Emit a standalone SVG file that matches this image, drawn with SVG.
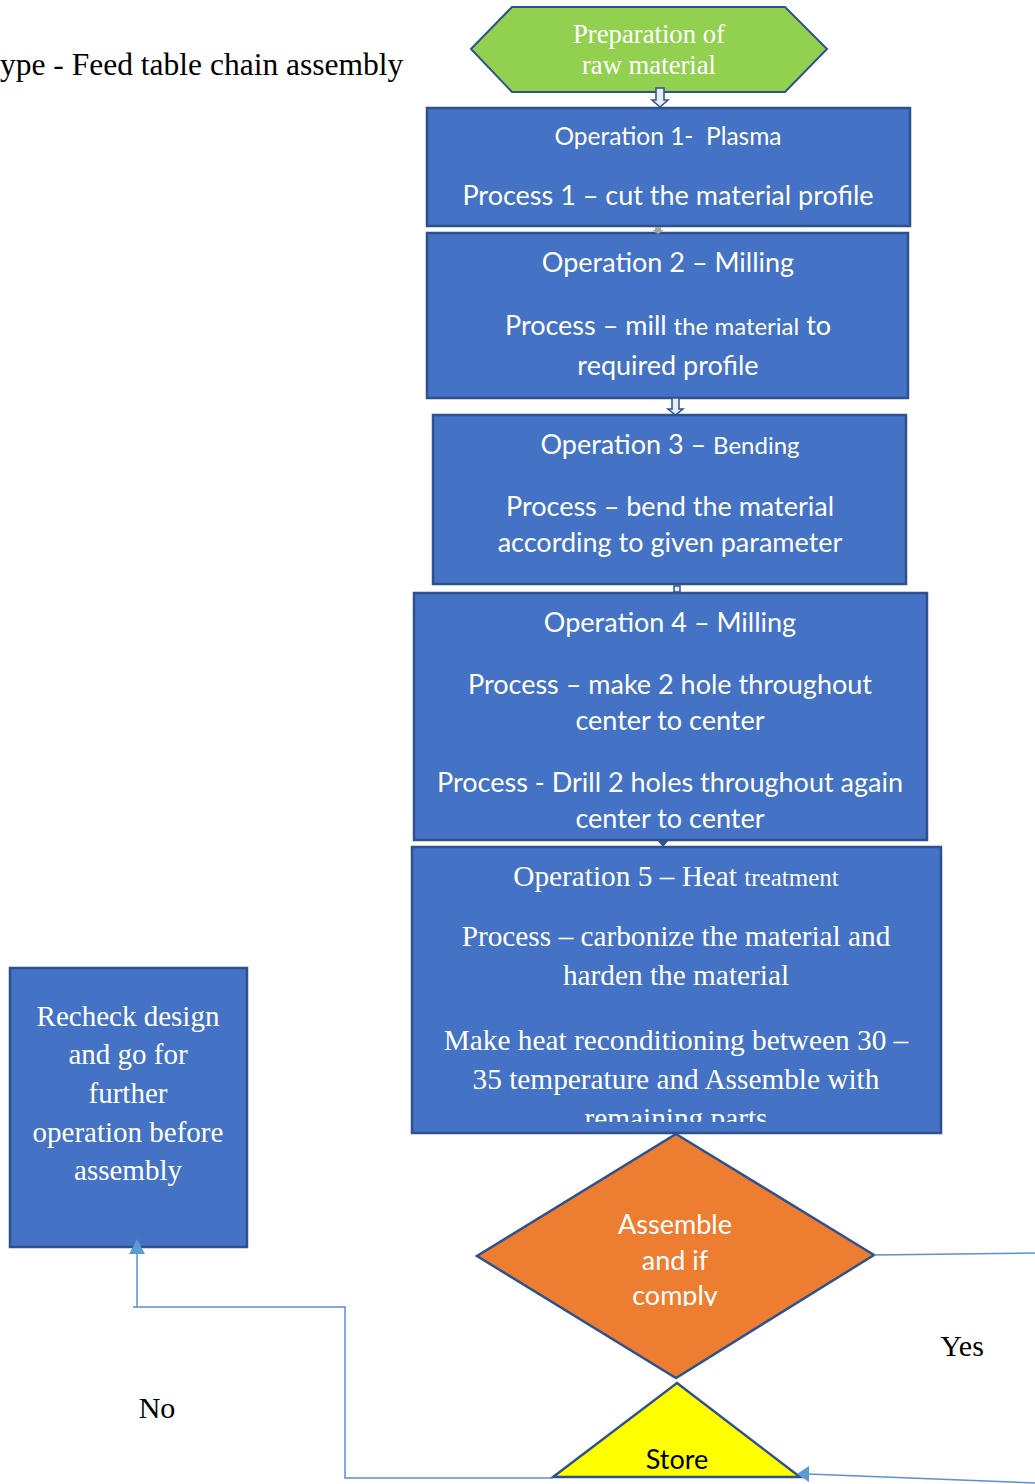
<svg xmlns="http://www.w3.org/2000/svg" width="1035" height="1484" viewBox="0 0 1035 1484">
  <style>
    .box { fill: #4472C4; stroke: #2F528F; stroke-width: 2.5; }
    .cal { font-family: Lato, "Liberation Sans", sans-serif; fill: #FFFFFF; text-anchor: middle; white-space: pre; }
    .tnr { font-family: "Liberation Serif", "Times New Roman", serif; text-anchor: middle; }
    .wt { fill: #FFFFFF; }
    .bk { fill: #000000; }
    .link { fill: none; stroke: #5B8FD6; stroke-width: 1.5; }
    .blk { fill: #E8ECF4; stroke: #2F528F; stroke-width: 1.5; }
  </style>
  <defs>
    <clipPath id="clip-op5"><rect x="412" y="847" width="530" height="275"/></clipPath>
    <clipPath id="clip-dec"><rect x="470" y="1134" width="410" height="172"/></clipPath>
    <clipPath id="clip-store"><rect x="540" y="1380" width="270" height="89"/></clipPath>
  </defs>

  <rect width="1035" height="1484" fill="#FFFFFF"/>

  <!-- heading -->
  <text class="tnr bk" x="0" y="75" font-size="31.5" style="text-anchor:start">ype - Feed table chain assembly</text>

  <g id="start">
    <polygon points="471,49 512,7 785,7 827,49 785,92 512,92" fill="#92D050" stroke="#2F528F" stroke-width="2"/>
    <text class="tnr wt" x="649" y="43" font-size="26.7">Preparation of</text>
    <text class="tnr wt" x="649" y="74" font-size="26.7">raw material</text>
  </g>

  <g id="op1">
    <rect class="box" x="427" y="108" width="483" height="118"/>
    <text class="cal" x="668" y="145" font-size="24.5">Operation 1-  Plasma</text>
    <text class="cal" x="668" y="205" font-size="27">Process 1 – cut the material profile</text>
  </g>

  <g id="op2">
    <rect class="box" x="427" y="233" width="481" height="165"/>
    <text class="cal" x="668" y="272" font-size="27">Operation 2 – Milling</text>
    <text class="cal" x="668" y="335" font-size="27">Process – mill <tspan font-size="24">the material</tspan> to</text>
    <text class="cal" x="668" y="375" font-size="27">required profile</text>
  </g>

  <g id="op3">
    <rect class="box" x="433" y="415" width="473" height="169"/>
    <text class="cal" x="670" y="454" font-size="27">Operation 3 – <tspan font-size="24">Bending</tspan></text>
    <text class="cal" x="670" y="516" font-size="27">Process – bend the material</text>
    <text class="cal" x="670" y="552" font-size="27">according to given parameter</text>
  </g>

  <g id="op4">
    <rect class="box" x="414" y="593" width="513" height="247"/>
    <text class="cal" x="670" y="632" font-size="27">Operation 4 – Milling</text>
    <text class="cal" x="670" y="694" font-size="27">Process – make 2 hole throughout</text>
    <text class="cal" x="670" y="730" font-size="27">center to center</text>
    <text class="cal" x="670" y="792" font-size="27">Process - Drill 2 holes throughout again</text>
    <text class="cal" x="670" y="828" font-size="27">center to center</text>
  </g>

  <g id="op5">
    <rect class="box" x="412" y="847" width="529" height="286"/>
    <g clip-path="url(#clip-op5)">
      <text class="tnr wt" x="676" y="886" font-size="29.3">Operation 5 – Heat <tspan font-size="25">treatment</tspan></text>
      <text class="tnr wt" x="676" y="946" font-size="29.3">Process – carbonize the material and</text>
      <text class="tnr wt" x="676" y="985" font-size="29.3">harden the material</text>
      <text class="tnr wt" x="676" y="1050" font-size="29.3">Make heat reconditioning between 30 –</text>
      <text class="tnr wt" x="676" y="1089" font-size="29.3">35 temperature and Assemble with</text>
      <text class="tnr wt" x="676" y="1128" font-size="29.3">remaining parts</text>
    </g>
  </g>

  <g id="decision">
    <polygon points="676,1134 874,1255 676,1378 477,1256" fill="#ED7D31" stroke="#2F528F" stroke-width="2.5"/>
    <g clip-path="url(#clip-dec)">
      <text class="cal" x="675" y="1234" font-size="27">Assemble</text>
      <text class="cal" x="675" y="1270" font-size="27">and if</text>
      <text class="cal" x="675" y="1305" font-size="27">comply</text>
    </g>
  </g>

  <g id="store">
    <polygon points="677,1383 800,1477 553,1477" fill="#FFFF00" stroke="#2F528F" stroke-width="2.5"/>
    <g clip-path="url(#clip-store)">
      <text class="cal" x="677" y="1469" font-size="27" style="fill:#000000">Store</text>
    </g>
  </g>

  <g id="recheck">
    <rect class="box" x="10" y="968" width="237" height="279"/>
    <text class="tnr wt" x="128" y="1026" font-size="29">Recheck design</text>
    <text class="tnr wt" x="128" y="1064" font-size="29">and go for</text>
    <text class="tnr wt" x="128" y="1103" font-size="29">further</text>
    <text class="tnr wt" x="128" y="1142" font-size="29">operation before</text>
    <text class="tnr wt" x="128" y="1180" font-size="29">assembly</text>
  </g>

  <g id="labels">
    <text class="tnr bk" x="962" y="1356" font-size="30">Yes</text>
    <text class="tnr bk" x="157" y="1418" font-size="30">No</text>
  </g>

  <!-- connectors, drawn last so their heads sit over the shapes -->
  <g id="connectors">
    <!-- small block arrows between the process steps -->
    <polygon class="blk" points="656,88 664,88 664,100 668,100 660,107 652,100 656,100"/>
    <polygon fill="#A6A6A6" points="655,227 661,227 661,230 664,230 658,234 652,230 655,230"/>
    <polygon class="blk" points="672,398 679,398 679,409 683,409 675.5,415 668,409 672,409"/>
    <rect class="blk" x="674" y="586" width="6" height="6"/>
    <polygon fill="#2F528F" points="657,840 669,840 663,847"/>
    <!-- yes branch -->
    <polyline class="link" stroke="#4472C4" points="874,1255 1035,1253"/>
    <polyline class="link" points="1035,1483 808,1474"/>
    <polygon fill="#5B9BD5" points="797,1474 809,1466 809,1482"/>
    <!-- no branch -->
    <polyline class="link" points="553,1478 345,1478 345,1307 133,1307"/>
    <polyline class="link" stroke="#6FA8DC" points="137,1307 137,1253"/>
    <polygon fill="#5B9BD5" points="137,1239 145,1254 129,1254"/>
  </g>
</svg>
